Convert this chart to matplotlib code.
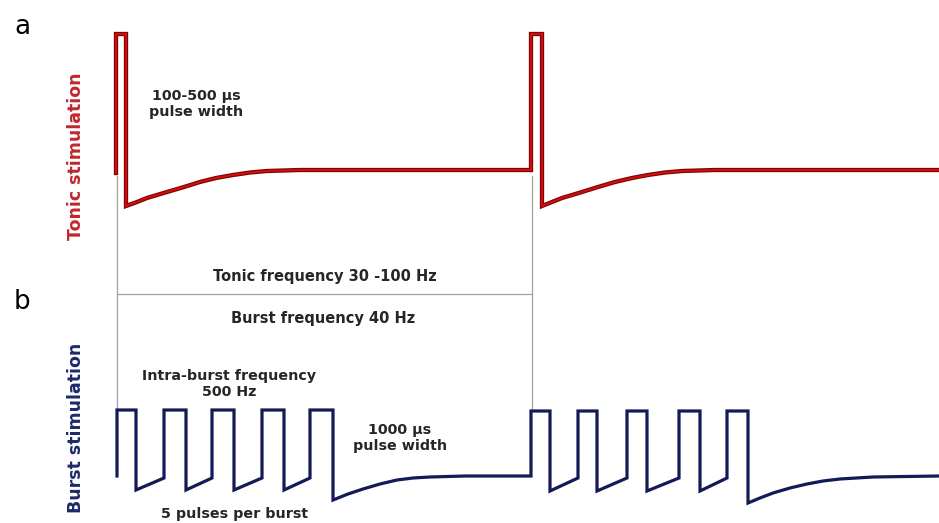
import matplotlib
matplotlib.use('Agg')
import matplotlib.pyplot as plt

# waveform vertices (schematic units, x = time, y = level, y grows downward)
tonic_t = [116, 116, 126, 126, 137, 147, 167, 184, 200, 216, 233, 250, 267, 300,
           531, 531, 542, 542, 552, 562, 582, 598, 615, 632, 648, 665, 682, 715, 939]
tonic_v = [173, 34, 34, 206, 202, 198, 192, 187, 182, 178, 175, 172.5, 171, 170,
           170, 34, 34, 206, 202, 198, 192, 187, 182, 178, 175, 172.5, 171, 170, 170]

burst_t = [117, 117, 136, 136, 164, 164, 186, 186, 212, 212, 234, 234, 262,
           262, 284, 284, 310, 310, 333, 333, 348, 363, 380, 397, 413, 430, 465,
           531, 531, 550, 550, 578, 578, 597, 597, 627, 627, 647, 647, 679,
           679, 700, 700, 727, 727, 748, 748, 760, 773, 790, 807, 823, 840, 873, 939]
burst_v = [476, 410, 410, 490, 478, 410, 410, 490, 478, 410, 410, 490, 478,
           410, 410, 490, 478, 410, 410, 500, 494, 489, 484, 480, 478, 477, 476,
           476, 411, 411, 491, 478, 411, 411, 491, 478, 411, 411, 491, 478,
           411, 411, 491, 478, 411, 411, 503, 498, 493, 488, 484, 481, 479, 477, 476]

# guide lines: (x0, y0, x1, y1)
guides = [(116.5, 176, 116.5, 410), (532, 176, 532, 410), (117, 294, 532, 294)]

fig = plt.figure(figsize=(9.39, 5.23), dpi=100)
ax = fig.add_axes([0, 0, 1, 1])
ax.set_xlim(0, 939)
ax.set_ylim(523, 0)
ax.axis('off')

for x0, y0, x1, y1 in guides:
    ax.plot([x0, x1], [y0, y1], color='#a3a3a3', lw=0.9, zorder=1)

ax.plot(tonic_t, tonic_v, color='#7d0505', lw=3.1, solid_joinstyle='miter', zorder=2)
ax.plot(tonic_t, tonic_v, color='#d40d0d', lw=1.4, solid_joinstyle='miter', zorder=3)
ax.plot(burst_t, burst_v, color='#131a55', lw=2.3, solid_joinstyle='miter', zorder=2)

bold = dict(fontweight='bold', family='DejaVu Sans', color='#262626', ha='center', va='center')
ax.text(22, 27, 'a', fontsize=19, family='DejaVu Sans', ha='center', va='center')
ax.text(22, 302, 'b', fontsize=19, family='DejaVu Sans', ha='center', va='center')
ax.text(76, 156, 'Tonic stimulation', rotation=90, fontsize=12.5, fontweight='bold',
        family='DejaVu Sans', color='#c1272d', ha='center', va='center')
ax.text(76, 428, 'Burst stimulation', rotation=90, fontsize=12.5, fontweight='bold',
        family='DejaVu Sans', color='#1d2a6a', ha='center', va='center')
ax.text(196, 104, '100-500 µs\npulse width', fontsize=10.3, linespacing=1.2, **bold)
ax.text(325, 277, 'Tonic frequency 30 -100 Hz', fontsize=10.5, **bold)
ax.text(323, 318, 'Burst frequency 40 Hz', fontsize=10.5, **bold)
ax.text(229, 384, 'Intra-burst frequency\n500 Hz', fontsize=10.3, linespacing=1.2, **bold)
ax.text(400, 438, '1000 µs\npulse width', fontsize=10.3, linespacing=1.2, **bold)
ax.text(235, 514, '5 pulses per burst', fontsize=10.3, **bold)

fig.savefig('out.png', dpi=100)
